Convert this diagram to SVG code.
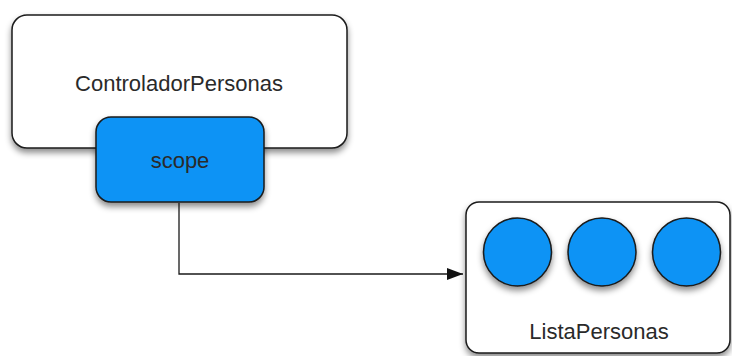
<svg xmlns="http://www.w3.org/2000/svg" width="732" height="356" viewBox="0 0 732 356">
<style>
.box{fill:#ffffff;stroke:#1a1a1a;stroke-width:1.5}
.blue{fill:#0a93f5;stroke:#1a1a1a;stroke-width:1.5}
.lbl{font-family:"Liberation Sans",Arial,sans-serif;font-size:22px;fill:#2a2a2a;text-anchor:middle}
.conn{fill:none;stroke:#1a1a1a;stroke-width:1.3}
</style>
<defs>
<filter id="sh" x="-20%" y="-20%" width="140%" height="150%">
<feDropShadow dx="0" dy="4" stdDeviation="3" flood-color="#000000" flood-opacity="0.45"/>
</filter>
<marker id="arr" markerWidth="16" markerHeight="12" refX="16" refY="6" orient="auto" markerUnits="userSpaceOnUse">
<path d="M0,0 L16,6 L0,12 Z" fill="#111111"/>
</marker>
</defs>
<g id="ControladorPersonas">
<rect class="box" x="12" y="15" width="335" height="133" rx="15" filter="url(#sh)"/>
<text class="lbl" x="179" y="91">ControladorPersonas</text>
</g>
<g id="scope">
<rect class="blue" x="96" y="117" width="168" height="85" rx="15" filter="url(#sh)"/>
<text class="lbl" x="180" y="168">scope</text>
</g>
<g id="ListaPersonas">
<rect class="box" x="466" y="202" width="264" height="151" rx="13" filter="url(#sh)"/>
<circle class="blue" cx="517.5" cy="252" r="34" filter="url(#sh)"/>
<circle class="blue" cx="602" cy="252" r="34" filter="url(#sh)"/>
<circle class="blue" cx="686.5" cy="252" r="34" filter="url(#sh)"/>
<text class="lbl" x="599" y="339">ListaPersonas</text>
</g>
<g id="connectors">
<path class="conn" d="M179,203 L179,274 L463,274" marker-end="url(#arr)"/>
</g>
</svg>
